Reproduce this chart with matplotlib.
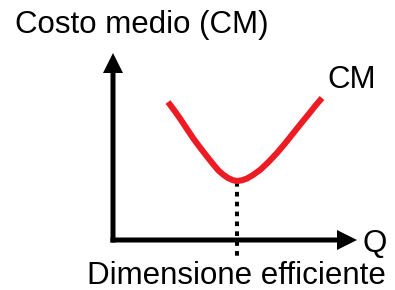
import numpy as np
from matplotlib import pyplot as plt

plt.rcParams['font.family'] = ['Liberation Sans', 'DejaVu Sans']

# curve CM(Q), arbitrary units (origin at the axes corner)
q = [55, 61, 67, 74, 80, 87, 94, 100, 105, 110, 115, 120, 124,
     129, 134, 140, 147, 155, 164, 172, 180, 188, 197, 203, 209]
cm = [138, 130, 121.5, 111, 102, 92.5, 83.5, 76, 70, 65.5, 62, 59.8, 59,
      59.7, 61.5, 65, 70, 77.5, 87, 96.5, 106.5, 116.5, 127.5, 135, 142]

y_label = "Costo medio (CM)"
x_label = "Q"
curve_label = "CM"
min_label = "Dimensione efficiente"

fig = plt.figure(figsize=(3.95, 2.90), dpi=100)
ax = fig.add_axes([0, 0, 1, 1])
ax.set_xlim(-113, 282)
ax.set_ylim(-50, 240)
ax.axis('off')

# axes with arrows
ax.arrow(0, -2.5, 0, 189.5, width=5, head_width=20, head_length=20,
         length_includes_head=True, color='black', lw=0)
ax.arrow(-2.5, 0, 246.5, 0, width=5, head_width=20, head_length=20,
         length_includes_head=True, color='black', lw=0)

# minimum -> dotted drop line
i = int(np.argmin(cm))
ax.plot([q[i], q[i]], [cm[i] - 1, -17], color='black', lw=2.9,
        linestyle=(0, (1.15, 1.3)), zorder=1)

ax.plot(q, cm, color='#ED1C24', lw=4.4, solid_capstyle='butt',
        solid_joinstyle='round', zorder=2)

fs = 22.5
ax.text(-98, 207, y_label, fontsize=fs, va='baseline', ha='left')
ax.text(214, 152, curve_label, fontsize=fs, va='baseline', ha='left')
ax.text(249, -12, x_label, fontsize=fs, va='baseline', ha='left')
ax.text(-26, -44.5, min_label, fontsize=fs, va='baseline', ha='left')

plt.savefig("out.png", dpi=100)
